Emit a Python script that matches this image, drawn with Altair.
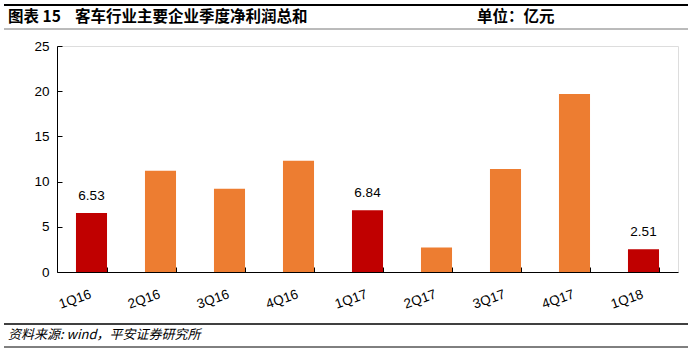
import altair as alt
import pandas as pd

quarters = ["1Q16", "2Q16", "3Q16", "4Q16", "1Q17", "2Q17", "3Q17", "4Q17", "1Q18"]
profits = [6.53, 11.2, 9.2, 12.3, 6.84, 2.7, 11.4, 19.7, 2.51]
groups = ["q1", "other", "other", "other", "q1", "other", "other", "other", "q1"]
value_labels = ["6.53", "", "", "", "6.84", "", "", "", "2.51"]

title_num = "图表 15"
title_main = "客车行业主要企业季度净利润总和"
title_right = "单位：亿元"
source_text = "资料来源: wind，平安证券研究所"

df = pd.DataFrame({"q": quarters, "v": profits, "g": groups, "lab": value_labels})

W, H = 621, 226
FONT = "Liberation Sans"
CJK = "Noto Sans CJK SC"

xscale = alt.Scale(paddingInner=0.55, paddingOuter=0.275)
yscale = alt.Scale(domain=[0, 25])

bars = alt.Chart(df).mark_bar().encode(
    x=alt.X("q:N", sort=quarters, scale=xscale, title=None,
            axis=alt.Axis(orient="bottom", ticks=False, domain=True, domainColor="#000000",
                          domainWidth=1, labelAngle=-19, labelAlign="right", labelBaseline="top",
                          labelPadding=15, labelOffset=-3, labelFont=FONT, labelFontSize=13.5,
                          labelColor="#000000", grid=False)),
    y=alt.Y("v:Q", scale=yscale, title=None,
            axis=alt.Axis(orient="left", ticks=False, domain=True, domainColor="#000000",
                          values=[0, 5, 10, 15, 20, 25], labelPadding=8, labelFont=FONT,
                          labelFontSize=13.5, labelColor="#000000", grid=False)),
    color=alt.Color("g:N", scale=alt.Scale(domain=["q1", "other"], range=["#C00000", "#ED7D31"]),
                    legend=None),
)

text = alt.Chart(df).transform_filter(alt.datum.lab != "").mark_text(
    baseline="bottom", dy=-10, font=FONT, fontSize=13.5, color="#000000"
).encode(
    x=alt.X("q:N", sort=quarters, scale=xscale, title=None,
            axis=alt.Axis(orient="top", offset=-H, labels=False, domain=False, tickSize=5,
                          tickColor="#000000", tickBand="extent", grid=False)),
    y=alt.Y("v:Q", scale=yscale, title=None,
            axis=alt.Axis(orient="right", offset=-W, labels=False, domain=False, tickSize=5,
                          tickColor="#000000", values=[0, 5, 10, 15, 20, 25], grid=False)),
    text="lab:N",
)

one = alt.Data(values=[{}])

top_rule = alt.Chart(one).mark_rule(color="#000000", strokeWidth=2).encode(
    x=alt.value(-53), x2=alt.value(631), y=alt.value(-41))
title_rule = alt.Chart(one).mark_rule(color="#777777", strokeWidth=1).encode(
    x=alt.value(-53), x2=alt.value(631), y=alt.value(-17))
bottom_rule1 = alt.Chart(one).mark_rule(color="#000000", strokeWidth=1.5).encode(
    x=alt.value(-53), x2=alt.value(631), y=alt.value(278))
bottom_rule2 = alt.Chart(one).mark_rule(color="#000000", strokeWidth=1).encode(
    x=alt.value(-53), x2=alt.value(631), y=alt.value(301))

def title_text(txt, x, y, size=15.5, weight="bold", style="normal"):
    return alt.Chart(one).mark_text(align="left", baseline="middle", font=CJK, fontSize=size,
                                    fontWeight=weight, fontStyle=style, color="#000000").encode(
        x=alt.value(x), y=alt.value(y), text=alt.value(txt))

t0 = title_text(title_num, -49, -29)
t1 = title_text(title_main, 18, -29)
t2 = title_text(title_right, 420, -29)
t3 = title_text(source_text, -49, 289, size=13, weight="normal", style="italic")

chart = alt.layer(bars, text, top_rule, title_rule, bottom_rule1, bottom_rule2, t0, t1, t2, t3).resolve_axis(
    x="independent", y="independent"
).properties(
    width=W, height=H,
    autosize=alt.AutoSizeParams(type="none"),
    padding={"left": 57, "top": 46, "right": 14, "bottom": 79},
).configure_view(stroke=None).configure(background="#ffffff")

chart.save("out.html", embed_options={"renderer": "svg", "actions": False})
